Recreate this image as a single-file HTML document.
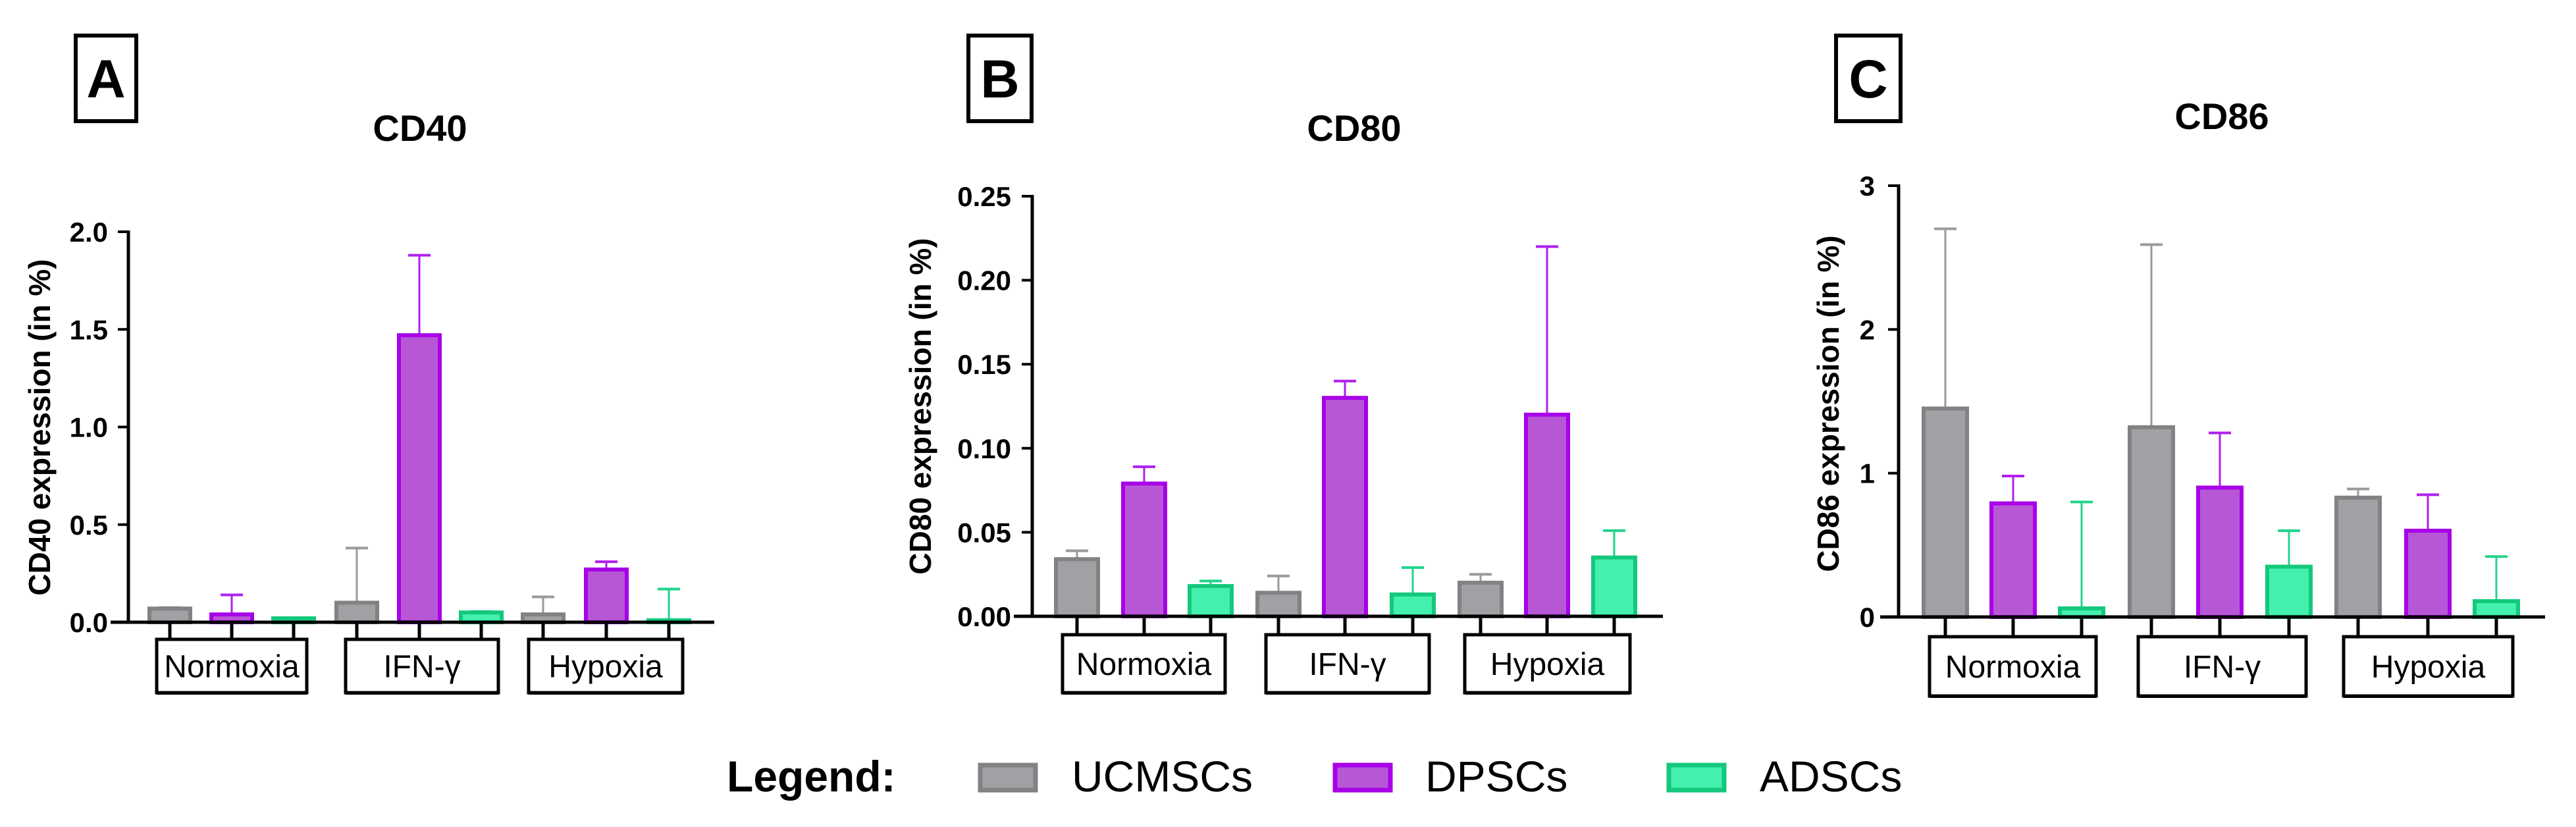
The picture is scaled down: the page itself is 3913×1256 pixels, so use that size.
<!DOCTYPE html>
<html><head><meta charset="utf-8">
<style>
html,body{margin:0;padding:0;background:#fff;}
svg{display:block;}
text{font-family:"Liberation Sans",Arial,sans-serif;fill:#000;}
</style></head>
<body>
<svg id="fig" width="3913" height="1256" viewBox="0 0 3913 1256" xmlns="http://www.w3.org/2000/svg"></svg>
<script>
// ---- data ----
const categories = ["Normoxia", "IFN-\u03b3", "Hypoxia"];
const seriesNames = ["UCMSCs", "DPSCs", "ADSCs"];
// Panel A: CD40
const cd40Ucmsc = [0.07, 0.10, 0.04];
const cd40UcmscErr = [0.075, 0.38, 0.13];
const cd40Dpsc = [0.04, 1.47, 0.27];
const cd40DpscErr = [0.14, 1.88, 0.31];
const cd40Adsc = [0.02, 0.05, 0.01];
const cd40AdscErr = [0.02, 0.055, 0.17];
const cd40Ticks = ["0.0", "0.5", "1.0", "1.5", "2.0"];
// Panel B: CD80
const cd80Ucmsc = [0.034, 0.014, 0.020];
const cd80UcmscErr = [0.039, 0.024, 0.025];
const cd80Dpsc = [0.079, 0.130, 0.120];
const cd80DpscErr = [0.089, 0.140, 0.220];
const cd80Adsc = [0.018, 0.013, 0.035];
const cd80AdscErr = [0.021, 0.029, 0.051];
const cd80Ticks = ["0.00", "0.05", "0.10", "0.15", "0.20", "0.25"];
// Panel C: CD86
const cd86Ucmsc = [1.45, 1.32, 0.83];
const cd86UcmscErr = [2.70, 2.59, 0.89];
const cd86Dpsc = [0.79, 0.90, 0.60];
const cd86DpscErr = [0.98, 1.28, 0.85];
const cd86Adsc = [0.06, 0.35, 0.11];
const cd86AdscErr = [0.80, 0.60, 0.42];
const cd86Ticks = ["0", "1", "2", "3"];

const NS = "http://www.w3.org/2000/svg";
const svg = document.getElementById("fig");
const fills = ["#a0a0a5", "#b857d6", "#44f0ae"];
const strokes = ["#828282", "#a800e8", "#14c87c"];
const errStrokes = ["#9a9a9a", "#b020ee", "#22d48a"];

function mk(tag, attrs, parent) {
  const e = document.createElementNS(NS, tag);
  for (const k in attrs) e.setAttribute(k, attrs[k]);
  (parent || svg).appendChild(e);
  return e;
}

const panels = [
  {key:"a", letter:"A", title:"CD40", ytitle:"CD40 expression (in %)", ticks:cd40Ticks, max:2.0,
   vals:[cd40Ucmsc, cd40Dpsc, cd40Adsc], errs:[cd40UcmscErr, cd40DpscErr, cd40AdscErr],
   box:[115,54,92,130], titleX:638, titleY:214, axX:195, y0:945, yTop:352, xStart:168, xEnd:1085,
   centers:[[258,352,446],[542,637,731],[825,921,1016]], bw:62,
   cboxes:[[238,466],[525,757],[803,1037]], cby:[971,1052], ytx:60, yty:649, tickRight:164},
  {key:"b", letter:"B", title:"CD80", ytitle:"CD80 expression (in %)", ticks:cd80Ticks, max:0.25,
   vals:[cd80Ucmsc, cd80Dpsc, cd80Adsc], errs:[cd80UcmscErr, cd80DpscErr, cd80AdscErr],
   box:[1471,54,96,130], titleX:2057, titleY:214, axX:1568, y0:936, yTop:298, xStart:1540, xEnd:2526,
   centers:[[1636,1738,1839],[1942,2043,2146],[2249,2350,2452]], bw:64,
   cboxes:[[1614,1861],[1923,2171],[2225,2476]], cby:[964,1052], ytx:1398, yty:617, tickRight:1536},
  {key:"c", letter:"C", title:"CD86", ytitle:"CD86 expression (in %)", ticks:cd86Ticks, max:3,
   vals:[cd86Ucmsc, cd86Dpsc, cd86Adsc], errs:[cd86UcmscErr, cd86DpscErr, cd86AdscErr],
   box:[2789,54,98,130], titleX:3375, titleY:196, axX:2884, y0:937, yTop:282, xStart:2856, xEnd:3866,
   centers:[[2955,3058,3162],[3268,3372,3477],[3582,3688,3792]], bw:66,
   cboxes:[[2931,3184],[3248,3503],[3560,3817]], cby:[967,1057], ytx:2777, yty:613, tickRight:2848}
];

panels.forEach(p => {
  const g = mk("g", {});
  
  
  const yScale = v => p.y0 - (v / p.max) * (p.y0 - p.yTop);

  const lb = mk("rect", {x:p.box[0], y:p.box[1], width:p.box[2], height:p.box[3], fill:"#fff", stroke:"#000", "stroke-width":6}, g);
  
  
  const lt = mk("text", {x:p.box[0]+p.box[2]/2, y:p.box[1]+p.box[3]/2+29, "text-anchor":"middle", "font-size":82, "font-weight":"bold"}, g);
  lt.textContent = p.letter;
  
  

  const t = mk("text", {x:p.titleX, y:p.titleY, "text-anchor":"middle", "font-size":56, "font-weight":"bold"}, g);
  t.textContent = p.title;
  
  

  const yt = mk("text", {x:0, y:0, transform:`translate(${p.ytx+16},${p.yty}) rotate(-90)`, "text-anchor":"middle", "font-size":46, "font-weight":"bold"}, g);
  yt.textContent = p.ytitle;
  
  

  p.ticks.forEach((lab) => {
    const v = parseFloat(lab);
    const y = yScale(v);
    const tk = mk("line", {x1:p.axX-16, x2:p.axX, y1:y, y2:y, stroke:"#000", "stroke-width":4}, g);
    
    
    const tl = mk("text", {x:p.tickRight, y:y+15, "text-anchor":"end", "font-size":42, "font-weight":"bold"}, g);
    tl.textContent = lab;
    
    
  });

  for (let c = 0; c < 3; c++) {
    for (let s = 0; s < 3; s++) {
      const cx = p.centers[c][s];
      const v = p.vals[s][c], e = p.errs[s][c];
      const yv = yScale(v), ye = yScale(e);
      const el = mk("line", {x1:cx, x2:cx, y1:yv, y2:ye, stroke:errStrokes[s], "stroke-width":3}, g);
      
      
      const cap = mk("line", {x1:cx-17, x2:cx+17, y1:ye, y2:ye, stroke:errStrokes[s], "stroke-width":4}, g);
      
      
      const h = Math.max(p.y0 - yv, 0);
      const r = mk("rect", {x:cx - p.bw/2, y:p.y0 - h, width:p.bw, height:h, fill:fills[s], stroke:strokes[s], "stroke-width":6}, g);
      
      
    }
  }

  const ya = mk("line", {x1:p.axX, x2:p.axX, y1:p.yTop-2, y2:p.y0, stroke:"#000", "stroke-width":5}, g);
  
  
  const xa = mk("line", {x1:p.xStart, x2:p.xEnd, y1:p.y0, y2:p.y0, stroke:"#000", "stroke-width":5}, g);
  
  

  for (let c = 0; c < 3; c++) {
    p.centers[c].forEach(cx => {
      const tk = mk("line", {x1:cx, x2:cx, y1:p.y0, y2:p.cby[0], stroke:"#000", "stroke-width":5}, g);
      
      
    });
    const [x0, x1] = p.cboxes[c];
    const cb = mk("rect", {x:x0, y:p.cby[0], width:x1-x0, height:p.cby[1]-p.cby[0], fill:"#fff", stroke:"#000", "stroke-width":5}, g);
    
    
    const sh = mk("line", {x1:x0, x2:x1, y1:p.cby[1]+1, y2:p.cby[1]+1, stroke:"#000", "stroke-width":4}, g);
    
    
    const ct = mk("text", {x:(x0+x1)/2, y:(p.cby[0]+p.cby[1])/2+17, "text-anchor":"middle", "font-size":48}, g);
    ct.textContent = categories[c];
    
    
  }
});

const lg = mk("g", {});


const lt = mk("text", {x:1104, y:1202, "font-size":66, "font-weight":"bold"}, lg);
lt.textContent = "Legend:";


const swX = [1486, 2025, 2532];
const txX = [1628, 2165, 2673];
seriesNames.forEach((n, i) => {
  const r = mk("rect", {x:swX[i]+3, y:1162, width:84, height:38, fill:fills[i], stroke:strokes[i], "stroke-width":7}, lg);
  
  
  const t = mk("text", {x:txX[i], y:1202, "font-size":66}, lg);
  t.textContent = n;
  
  
});
</script>
</body></html>
